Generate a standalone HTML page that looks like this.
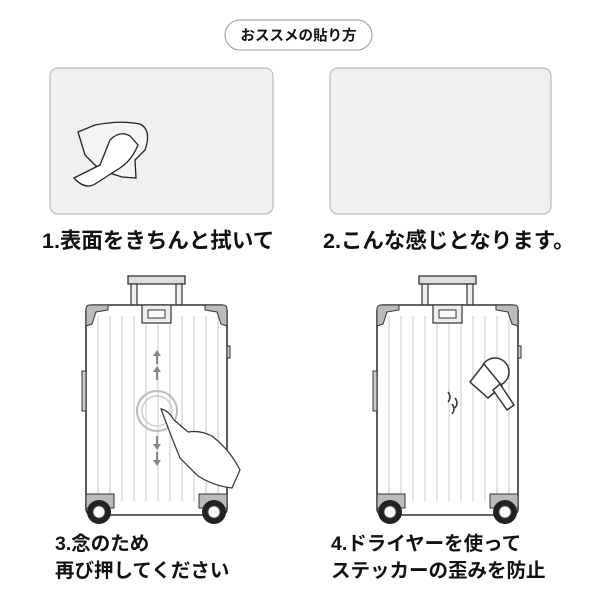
<!DOCTYPE html>
<html><head><meta charset="utf-8"><style>
html,body{margin:0;padding:0;background:#fff;}
svg{display:block;}
text{font-family:"Liberation Sans","Noto Sans CJK JP",sans-serif;font-weight:bold;fill:#111;}
</style></head><body>
<svg width="600" height="594" viewBox="0 0 600 594" xmlns="http://www.w3.org/2000/svg">
<defs>
<g id="case">
  <rect x="42" y="0" width="57" height="8" fill="#ddd" stroke="#333" stroke-width="1.3"/>
  <rect x="45" y="8" width="6" height="22" fill="#eee" stroke="#333" stroke-width="1.2"/>
  <rect x="90" y="8" width="6" height="22" fill="#eee" stroke="#333" stroke-width="1.2"/>
  <rect x="0" y="29" width="141" height="210" rx="6" fill="#fff" stroke="#333" stroke-width="1.6"/>
  <g stroke="#e4e4e4" stroke-width="2">
    <line x1="12" y1="40" x2="12" y2="225"/><line x1="24" y1="40" x2="24" y2="225"/>
    <line x1="36" y1="40" x2="36" y2="225"/><line x1="48" y1="40" x2="48" y2="225"/>
    <line x1="60" y1="40" x2="60" y2="225"/><line x1="72" y1="40" x2="72" y2="225"/>
    <line x1="84" y1="40" x2="84" y2="225"/><line x1="96" y1="40" x2="96" y2="225"/>
    <line x1="108" y1="40" x2="108" y2="225"/><line x1="120" y1="40" x2="120" y2="225"/>
    <line x1="132" y1="40" x2="132" y2="225"/>
  </g>
  <rect x="56" y="29" width="29" height="18" fill="#eee" stroke="#333" stroke-width="1.2"/>
  <rect x="62" y="34" width="17" height="8" fill="#fff" stroke="#333" stroke-width="1"/>
  <path d="M0 33 Q0 29 4 29 L22 29 L22 34 L10 36 L6 48 L0 50 Z" fill="#bbb" stroke="#333" stroke-width="1"/>
  <path d="M141 33 Q141 29 137 29 L119 29 L119 34 L131 36 L135 48 L141 50 Z" fill="#bbb" stroke="#333" stroke-width="1"/>
  <path d="M0 226 L0 218 L28 218 L28 232 L0 232Z" fill="#bbb" stroke="#333" stroke-width="1"/>
  <path d="M141 226 L141 218 L113 218 L113 232 L141 232Z" fill="#bbb" stroke="#333" stroke-width="1"/>
  <rect x="-4" y="95" width="4" height="40" fill="#ccc" stroke="#333" stroke-width="1"/>
  <rect x="141" y="70" width="3" height="12" fill="#ccc" stroke="#333" stroke-width="1"/>
  <circle cx="13" cy="236" r="12" fill="#222"/><circle cx="13" cy="236" r="6" fill="#fff" stroke="#555"/>
  <circle cx="128" cy="236" r="12" fill="#222"/><circle cx="128" cy="236" r="6" fill="#fff" stroke="#555"/>
</g>
</defs>

<rect x="225" y="20" width="147" height="30" rx="15" fill="#fff" stroke="#999" stroke-width="1"/>
<text x="298.5" y="40.5" font-size="14.5" text-anchor="middle">おススメの貼り方</text>

<rect x="50" y="68" width="223" height="146" rx="8" fill="#f0f0f0" stroke="#bbb" stroke-width="1.2"/>
<rect x="330" y="68" width="221" height="146" rx="8" fill="#f0f0f0" stroke="#bbb" stroke-width="1.2"/>
<g fill="#fff" stroke="#222" stroke-width="1.3">
  <path d="M78 132 L95 125 Q120 120 140 124 Q152 130 145 150 L135 160 L136 178 L122 177 L100 170 L85 155 Z" fill="#f4f4f4"/>
  <path d="M74 178 L100 165 L110 140 Q120 130 130 136 L138 145 Q132 160 120 168 L95 184 Q85 190 74 178 Z"/>
</g>

<text x="42" y="248" font-size="21.5">1.表面をきちんと拭いて</text>
<text x="323" y="248" font-size="21.5">2.こんな感じとなります。</text>

<use href="#case" x="86" y="276"/>
<use href="#case" x="377" y="276"/>

<circle cx="157" cy="411" r="20" fill="none" stroke="#bbb" stroke-width="2"/>
<circle cx="157" cy="411" r="15" fill="none" stroke="#ccc" stroke-width="1.5"/>
<g fill="#888">
  <path d="M157 350 l-4 6 h3 v8 h2 v-8 h3z"/><path d="M157 366 l-4 6 h3 v8 h2 v-8 h3z"/>
  <path d="M157 450 l-4 -6 h3 v-8 h2 v8 h3z"/><path d="M157 466 l-4 -6 h3 v-8 h2 v8 h3z"/>
</g>
<path d="M161 409 Q168 410 174 420 L188 432 Q200 430 212 436 Q230 450 240 470 L232 488 Q214 486 198 476 L180 458 L172 438 Z" fill="#fff" stroke="#333" stroke-width="1.2"/>

<g stroke="#333" stroke-width="1.5" fill="#fff">
  <circle cx="495" cy="372" r="14"/>
  <path d="M470 382 L484 364 L502 386 L488 398 Z"/>
  <path d="M500 384 L514 405 L507 410 L493 390 Z"/>
  <path d="M448 402 q4 -5 0 -10 M455 408 q4 -5 0 -10 M452 414 q4 -5 0 -10" fill="none"/>
</g>

<text x="55" y="550" font-size="19.5">3.念のため</text>
<text x="55" y="577" font-size="19.5">再び押してください</text>
<text x="331" y="550" font-size="19.5">4.ドライヤーを使って</text>
<text x="331" y="577" font-size="19.5">ステッカーの歪みを防止</text>
</svg>
</body></html>
